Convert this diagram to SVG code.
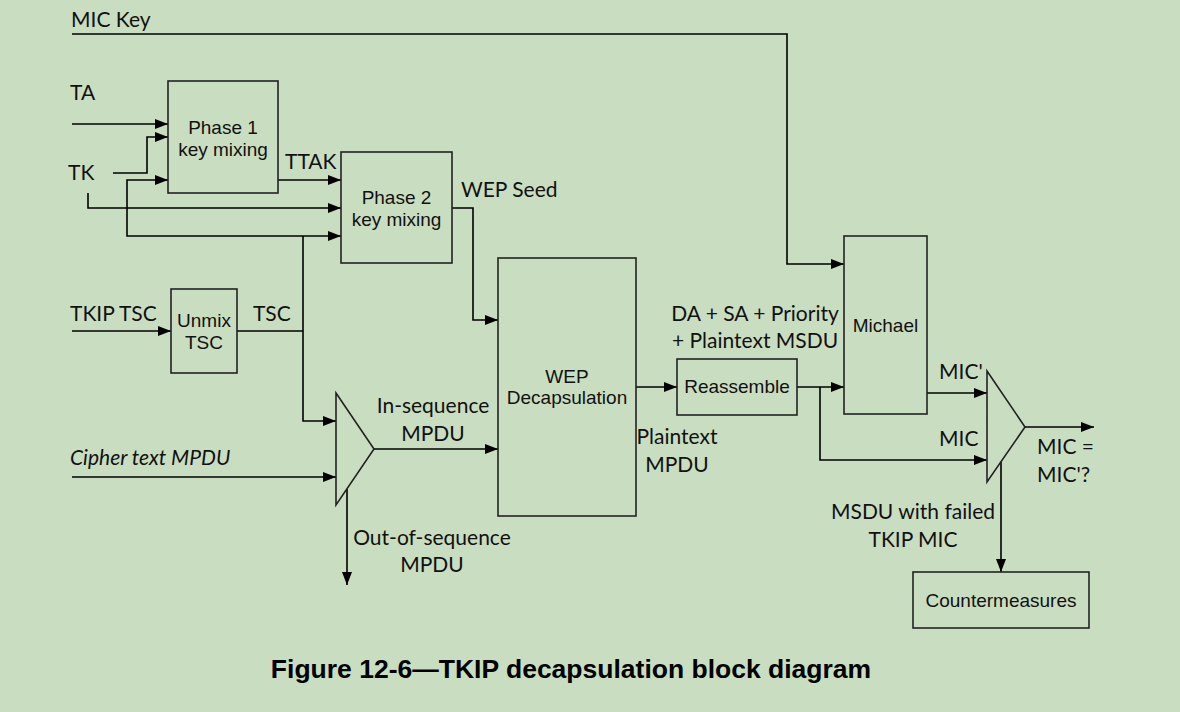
<svg xmlns="http://www.w3.org/2000/svg" width="1180" height="712" viewBox="0 0 1180 712">
<defs>
<marker id="arr" markerUnits="userSpaceOnUse" markerWidth="13" markerHeight="10" refX="13" refY="5" orient="auto">
<path d="M0,0 L13,5 L0,10 z" fill="#000"/>
</marker>
<style>
.box{fill:none;stroke:#222;stroke-width:1.6}
.bt{font-family:"Liberation Sans",Arial,sans-serif;font-size:19px;fill:#111;text-anchor:middle}
.lb{font-family:Lato,"Liberation Sans",sans-serif;font-size:21px;fill:#111}
.c{text-anchor:middle}
.ln{fill:none;stroke:#000;stroke-width:1.6}
.ln path{marker-end:url(#arr)}
</style>
</defs>
<rect width="1180" height="712" fill="#C9DEC0"/>

<g id="connectors" class="ln">
<path d="M72,34 H787 V264 H844"/>
<path d="M72,124 H168"/>
<path d="M113,173 H147 V137 H168"/>
<path d="M88,193 V208 H341"/>
<path d="M303,236 H341"/>
<path d="M303,236 H127 V180 H168"/>
<path d="M278,180 H341"/>
<path d="M72,331 H171"/>
<polyline points="237,331 303,331"/>
<path d="M303,236 V421 H336"/>
<path d="M72,477 H336"/>
<path d="M374,449 H498"/>
<path d="M347,489 V585"/>
<path d="M452,208 H473 V320 H498"/>
<path d="M636,387 H677"/>
<path d="M797,387 H844"/>
<path d="M820,387 V460 H987"/>
<path d="M927,393 H987"/>
<path d="M1025,427 H1094"/>
<path d="M1001,462 V572"/>
</g>

<g id="labels">
<text class="lb" x="71" y="27">MIC Key</text>
<text class="lb" x="70" y="100">TA</text>
<text class="lb" x="68" y="180">TK</text>
<text class="lb" x="285" y="169">TTAK</text>
<text class="lb" x="461" y="197">WEP Seed</text>
<text class="lb" x="70" y="321">TKIP TSC</text>
<text class="lb" x="253" y="321">TSC</text>
<text class="lb c" x="433" y="413">In-sequence</text>
<text class="lb c" x="433" y="441">MPDU</text>
<text class="lb" x="70" y="465" font-style="italic">Cipher text MPDU</text>
<text class="lb c" x="432" y="545">Out-of-sequence</text>
<text class="lb c" x="432" y="572">MPDU</text>
<text class="lb c" x="677" y="444">Plaintext</text>
<text class="lb c" x="677" y="472">MPDU</text>
<text class="lb c" x="755" y="321">DA + SA + Priority</text>
<text class="lb c" x="755" y="348">+ Plaintext MSDU</text>
<text class="lb" x="939" y="379">MIC'</text>
<text class="lb" x="939" y="446">MIC</text>
<text class="lb" x="1037" y="454">MIC =</text>
<text class="lb" x="1037" y="482">MIC'?</text>
<text class="lb c" x="913" y="519">MSDU with failed</text>
<text class="lb c" x="913" y="547">TKIP MIC</text>
</g>

<g id="phase1">
<rect class="box" x="168" y="81" width="110" height="112"/>
<text class="bt" x="223" y="134">Phase 1</text>
<text class="bt" x="223" y="156">key mixing</text>
</g>
<g id="phase2">
<rect class="box" x="341" y="152" width="111" height="111"/>
<text class="bt" x="396.5" y="204">Phase 2</text>
<text class="bt" x="396.5" y="226">key mixing</text>
</g>
<g id="unmix">
<rect class="box" x="171" y="289" width="66" height="84"/>
<text class="bt" x="204" y="327">Unmix</text>
<text class="bt" x="204" y="349">TSC</text>
</g>
<g id="mux">
<polygon class="box" points="336,393 374,449 336,505"/>
</g>
<g id="wep">
<rect class="box" x="498" y="258" width="138" height="258"/>
<text class="bt" x="567" y="383">WEP</text>
<text class="bt" x="567" y="404">Decapsulation</text>
</g>
<g id="reassemble">
<rect class="box" x="677" y="359" width="120" height="56"/>
<text class="bt" x="737" y="393">Reassemble</text>
</g>
<g id="michael">
<rect class="box" x="844" y="236" width="83" height="178"/>
<text class="bt" x="885.5" y="332">Michael</text>
</g>
<g id="compare">
<polygon class="box" points="987,371 1025,427 987,482"/>
</g>
<g id="countermeasures">
<rect class="box" x="913" y="572" width="176" height="56"/>
<text class="bt" x="1001" y="607" font-size="18">Countermeasures</text>
</g>
<text x="571" y="678" font-family="Liberation Sans, Arial, sans-serif" font-weight="bold" font-size="26.5" fill="#000" text-anchor="middle">Figure 12-6—TKIP decapsulation block diagram</text>
</svg>
